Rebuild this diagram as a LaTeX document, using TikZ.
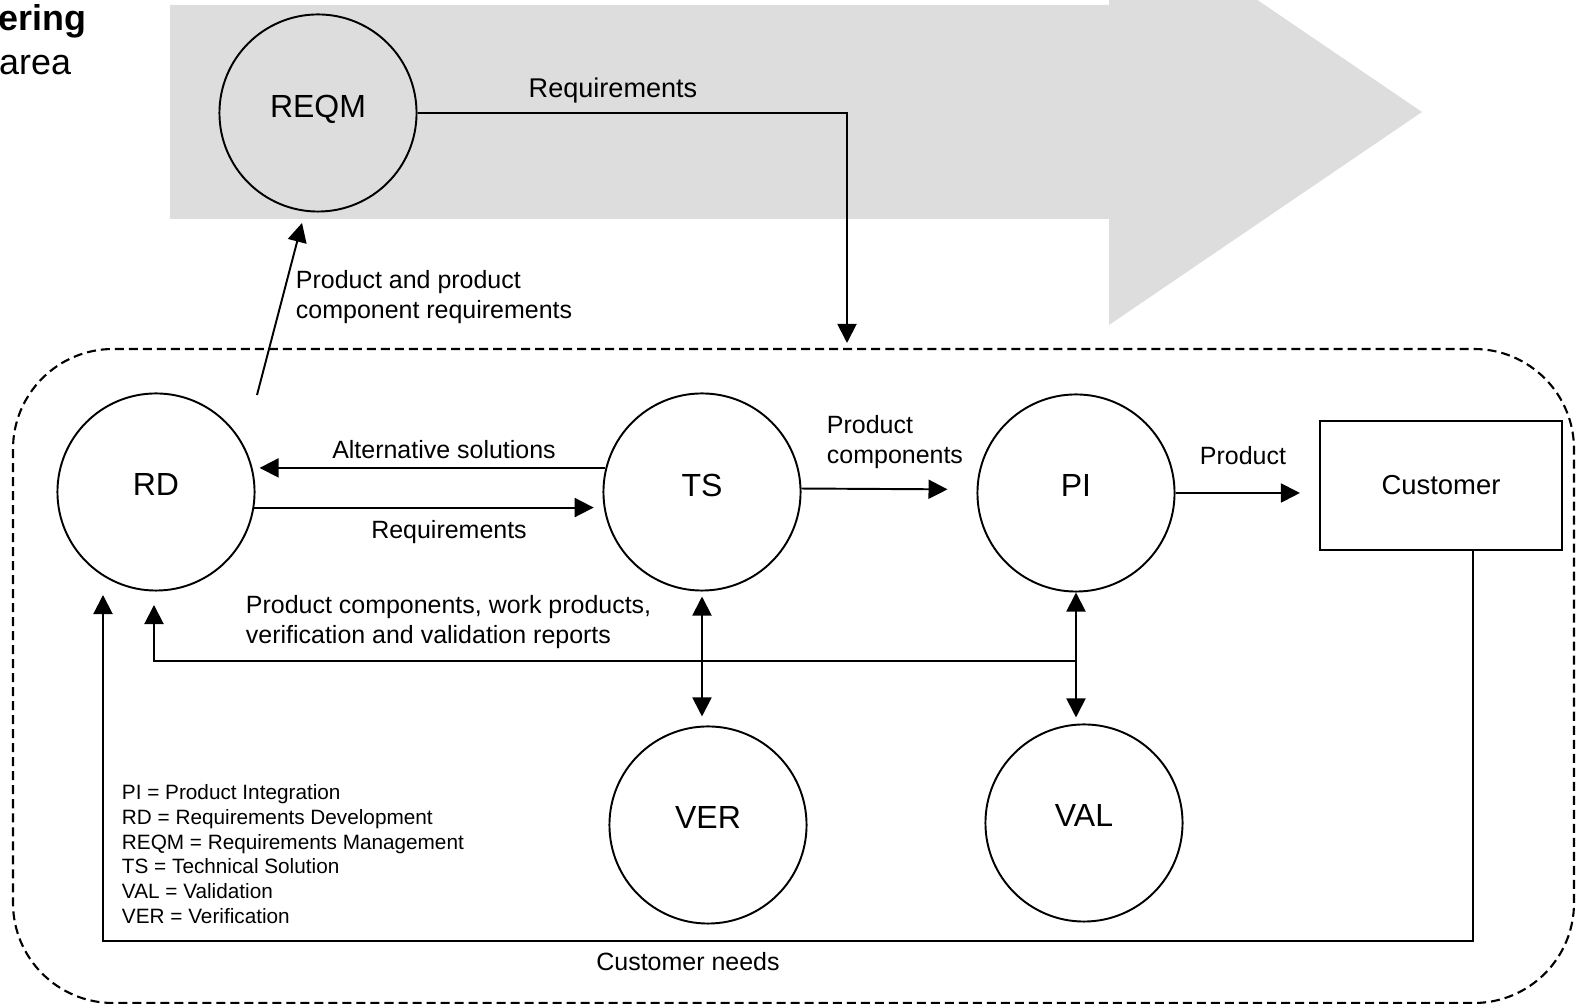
\documentclass[tikz,border=0pt]{standalone}
\usepackage{fontspec}
\setmainfont{Liberation Sans}
\usepackage{xcolor}
\usetikzlibrary{arrows.meta,positioning,calc}
\definecolor{bandgray}{HTML}{DDDDDD}

\begin{document}
\begin{tikzpicture}[
  x=0.01cm, y=-0.01cm,
  line width=0.55pt,
  proc/.style={circle, draw, minimum size=1.97cm, inner sep=0pt, text depth=0.14cm, font=\fontsize{9.1}{11}\selectfont},
  actor/.style={draw, minimum width=2.42cm, minimum height=1.29cm, inner sep=0pt, font=\fontsize{7.8}{9}\selectfont},
  lbl/.style={inner sep=0pt, align=left, font=\fontsize{7.1}{8.6}\selectfont},
  legend/.style={inner sep=0pt, align=left, font=\fontsize{5.9}{7.05}\selectfont},
  arr/.style={-{Triangle[length=0.19cm, width=0.19cm]}},
  darr/.style={{Triangle[length=0.19cm, width=0.19cm]}-{Triangle[length=0.19cm, width=0.19cm]}},
  bound/.style={line width=0.6pt, dash pattern=on 0.09cm off 0.05cm, rounded corners=1cm}
]
\useasboundingbox (0,0) rectangle (1581,1004);
\clip (0,0) rectangle (1581,1004);
% grey process band
\fill[bandgray] (170,5) -- (1109,5) -- (1109,-101) -- (1422,112) -- (1109,325) -- (1109,219) -- (170,219) -- cycle;
\node[anchor=base east, inner sep=0pt, font=\fontsize{10.2}{12}\selectfont\bfseries] (ttltop) at (87,31) {ering};
\node[anchor=base east, inner sep=0pt, font=\fontsize{10.2}{12}\selectfont] (ttlbot) at (72,75) {area};
% engineering boundary
\draw[bound] (13,349) rectangle (1574,1003);
% process areas
\node[proc] (reqm) at (318,113) {REQM};
\node[proc] (rd) at (156,492) {RD};
\node[proc] (ts) at (702,492) {TS};
\node[proc] (pi) at (1076,493) {PI};
\node[proc] (ver) at (708,825) {VER};
\node[proc] (val) at (1084,823) {VAL};
\node[actor] (cust) at (1441,485.5) {Customer};
% flows
\coordinate (rqdrop) at (847,343);
\draw[arr] (reqm.east) -| (rqdrop);
\node[lbl, font=\fontsize{7.7}{9}\selectfont] (rqlbl) at (613,91) {Requirements};
\coordinate (pcrfoot) at (257,395);
\coordinate (pcrtip) at (302,223);
\draw[arr] (pcrfoot) -- (pcrtip);
\node[lbl, anchor=west] (pcrlbl) at (295,297) {Product and product\\component requirements};
\draw[arr, shorten >=0.07cm] (ts.166) -- (rd.14);
\node[lbl] (altlbl) at (444,450) {Alternative solutions};
\draw[arr, shorten >=0.1cm] (rd.-9.4) -- (ts.189.4);
\node[lbl] (reqlbl) at (449,532) {Requirements};
\draw[arr, shorten >=0.29cm] (ts.2) -- (pi.178);
\node[lbl, anchor=west] (pclbl) at (826,442) {Product\\components};
\draw[arr, shorten >=0.19cm] (pi.east) -- (pi.east -| cust.west);
\node[lbl] (prodlbl) at (1243,456) {Product};
\coordinate (cnturn) at (103,941);
\coordinate (cntip) at (103,595);
\draw[arr] ([xshift=0.32cm]cust.south) |- (cnturn) -- (cntip);
\node[lbl] (cnlbl) at (688,962) {Customer needs};
\coordinate (fbstart) at (1076,661);
\coordinate (fbtip) at (154,605);
\draw[arr] (fbstart) -| (fbtip);
\node[lbl, anchor=west] (fblbl) at (245,622) {Product components, work products,\\verification and validation reports};
\draw[darr, shorten <=0.05cm, shorten >=0.09cm] (ts.south) -- (ts.south |- ver.north);
\draw[darr, shorten >=0.06cm] (pi.south) -- (pi.south |- val.north);
% key
\node[legend, anchor=west] (key) at (121,854) {PI = Product Integration\\RD = Requirements Development\\REQM = Requirements Management\\TS = Technical Solution\\VAL = Validation\\VER = Verification};
\end{tikzpicture}
\end{document}
